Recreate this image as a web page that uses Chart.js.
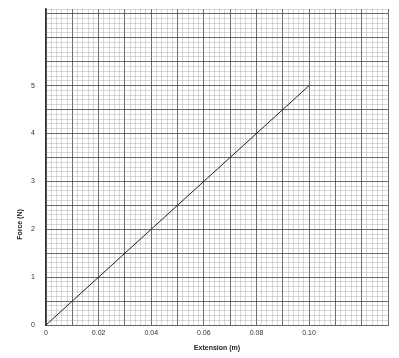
<!DOCTYPE html>
<html>
<head>
<meta charset="utf-8">
<script src="https://cdn.jsdelivr.net/npm/chart.js@4/dist/chart.umd.min.js"></script>
<style>
html,body{margin:0;padding:0;background:#fff;}
#wrap{width:399px;height:358px;}
</style>
</head>
<body>
<div id="wrap"><canvas id="c" width="399" height="358"></canvas></div>
<script>
const extension = [0, 0.02, 0.04, 0.06, 0.08, 0.10];
const force = [0, 1, 2, 3, 4, 5];
const xTickValues = [0, 0.02, 0.04, 0.06, 0.08, 0.10];
const xTickLabels = ['0', '0.02', '0.04', '0.06', '0.08', '0.10'];
const yTickValues = [0, 1, 2, 3, 4, 5];
const yTickLabels = ['0', '1', '2', '3', '4', '5'];
const xTitle = 'Extension (m)';
const yTitle = 'Force (N)';

const points = extension.map((e, i) => ({x: e, y: force[i]}));

function xLabel(v) {
  const i = xTickValues.findIndex(t => Math.abs(t - v) < 1e-6);
  return i >= 0 ? xTickLabels[i] : '';
}
function yLabel(v) {
  const i = yTickValues.findIndex(t => Math.abs(t - v) < 1e-6);
  return i >= 0 ? yTickLabels[i] : '';
}

const yTitlePlugin = {
  id: 'yTitlePlugin',
  afterDraw(chart) {
    const c = chart.ctx;
    const ys = chart.scales.y;
    c.save();
    c.translate(20, ys.getPixelForValue(2.1));
    c.rotate(-Math.PI / 2);
    c.fillStyle = '#222';
    c.font = 'bold 7px "Liberation Sans", Arial, sans-serif';
    c.textAlign = 'center';
    c.textBaseline = 'middle';
    c.fillText(yTitle, 0, 0);
    c.restore();
  }
};

new Chart(document.getElementById('c'), {
  type: 'scatter',
  data: {
    datasets: [{
      data: points,
      showLine: true,
      borderColor: '#222',
      borderWidth: 1,
      pointRadius: 0,
      fill: false
    }]
  },
  options: {
    responsive: false,
    animation: false,
    layout: {padding: {top: 9, right: 11, bottom: 6, left: 0}},
    plugins: {legend: {display: false}, tooltip: {enabled: false}},
    scales: {
      x: {
        type: 'linear',
        min: 0, max: 0.13,
        afterFit(s) { s.height = 27; s.paddingLeft = 0; s.paddingRight = 0; },
        ticks: {
          stepSize: 0.002,
          autoSkip: false,
          maxRotation: 0,
          padding: 4,
          color: '#333',
          font: {family: '"Liberation Sans", Arial, sans-serif', size: 7},
          callback: (v) => xLabel(v)
        },
        grid: {
          drawTicks: false,
          color: (ctx) => {
            const k = Math.round(ctx.tick.value * 1000);
            return k % 10 === 0 ? 'rgba(60,60,60,0.75)' : 'rgba(140,140,140,0.32)';
          },
          lineWidth: 1
        },
        border: {display: true, color: '#666', width: 1},
        title: {
          display: true,
          text: xTitle,
          color: '#222',
          font: {family: '"Liberation Sans", Arial, sans-serif', size: 7, weight: 'bold'},
          padding: {top: 4, bottom: 0}
        }
      },
      y: {
        type: 'linear',
        min: 0, max: 6.6,
        afterFit(s) { s.width = 46; s.paddingTop = 0; s.paddingBottom = 0; },
        ticks: {
          stepSize: 0.1,
          autoSkip: false,
          padding: 11,
          color: '#333',
          font: {family: '"Liberation Sans", Arial, sans-serif', size: 7},
          callback: (v) => yLabel(v)
        },
        grid: {
          drawTicks: false,
          color: (ctx) => {
            const k = Math.round(ctx.tick.value * 10);
            return k % 5 === 0 ? 'rgba(60,60,60,0.75)' : 'rgba(140,140,140,0.32)';
          },
          lineWidth: 1
        },
        border: {display: true, color: '#333', width: 1.5}
      }
    }
  },
  plugins: [yTitlePlugin]
});
</script>
</body>
</html>
